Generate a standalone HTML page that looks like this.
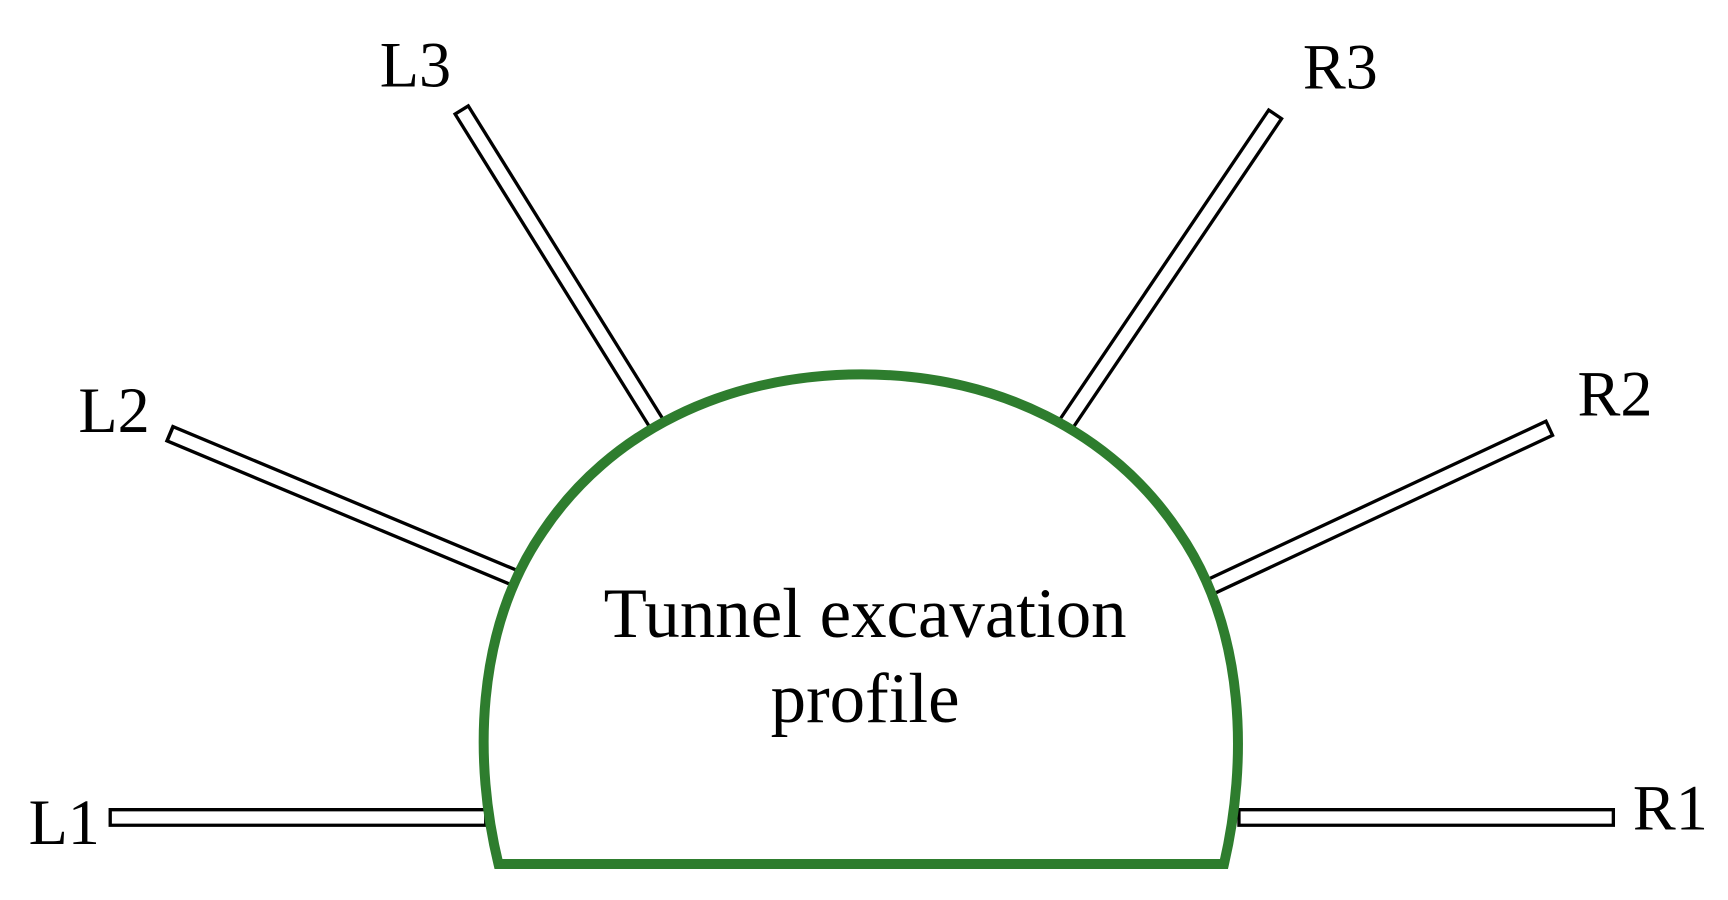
<!DOCTYPE html>
<html><head><style>html,body{margin:0;padding:0;background:#fff;}svg{display:block}</style></head>
<body>
<svg width="1728" height="900" viewBox="0 0 1560 812.5" preserveAspectRatio="none" xmlns="http://www.w3.org/2000/svg">
<rect width="1560" height="812.5" fill="#fff"/>
<g stroke-linecap="butt">
<g stroke="#000" stroke-width="17">
<line x1="98" y1="738" x2="440" y2="738"/>
<line x1="1117" y1="738" x2="1458" y2="738"/>
<line x1="152" y1="391" x2="468" y2="523"/>
<line x1="416" y1="98" x2="595" y2="386"/>
<line x1="1152" y1="102" x2="961" y2="385"/>
<line x1="1400" y1="386" x2="1090" y2="531"/>
</g>
<g stroke="#fff" stroke-width="11">
<line x1="101" y1="738" x2="437" y2="738"/>
<line x1="1120" y1="738" x2="1455" y2="738"/>
<line x1="155" y1="392.2" x2="465" y2="521.8"/>
<line x1="417.6" y1="100.6" x2="593.4" y2="383.4"/>
<line x1="1150.3" y1="104.5" x2="962.7" y2="382.5"/>
<line x1="1397.3" y1="387.3" x2="1092.7" y2="529.7"/>
</g>
</g>
<path d="M450,780 L1105,780 C1126,690 1126,570 1064,480 C1004,390 900,338 778,338 C655,338 550,390 490,480 C428,570 428,690 450,780 Z" fill="none" stroke="#2e7d2e" stroke-width="9" stroke-linejoin="miter"/>
<g font-family="Liberation Serif, serif" fill="#000">
<text x="375" y="78" font-size="58" text-anchor="middle">L3</text>
<text x="1210" y="80" font-size="58" text-anchor="middle">R3</text>
<text x="103" y="390" font-size="58" text-anchor="middle">L2</text>
<text x="1458" y="375" font-size="58" text-anchor="middle">R2</text>
<text x="58" y="762" font-size="58" text-anchor="middle">L1</text>
<text x="1508" y="749" font-size="58" text-anchor="middle">R1</text>
<text x="781" y="575" font-size="64" text-anchor="middle">Tunnel excavation</text>
<text x="781" y="652" font-size="64" text-anchor="middle">profile</text>
</g>
</svg>
</body></html>
